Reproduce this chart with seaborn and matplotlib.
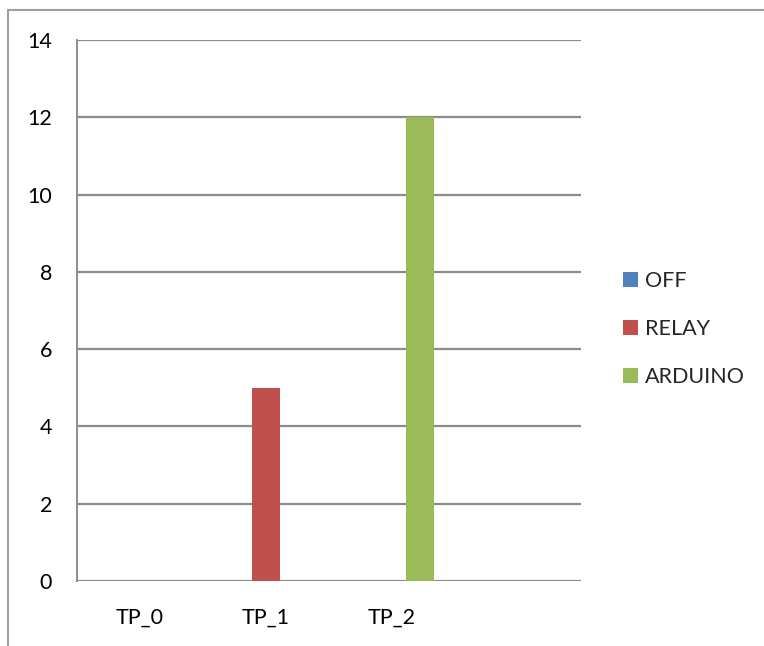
import matplotlib
matplotlib.use("Agg")
import matplotlib.pyplot as plt
from matplotlib.patches import Patch
from matplotlib.lines import Line2D
import seaborn as sns
import pandas as pd

categories = ["TP_0", "TP_1", "TP_2"]
series = ["OFF", "RELAY", "ARDUINO"]
off_values = [0, 0, 0]
relay_values = [0, 5, 0]
arduino_values = [0, 0, 12]
y_ticks = [0, 2, 4, 6, 8, 10, 12, 14]
colors = ["#4F81BD", "#C0504D", "#9BBB59"]

rows = []
for name, vals in zip(series, [off_values, relay_values, arduino_values]):
    for cat, v in zip(categories, vals):
        rows.append({"cat": cat, "series": name, "value": v})
df = pd.DataFrame(rows)

sns.set_theme(style="white")
plt.rcParams["font.family"] = ["Lato", "DejaVu Sans"]

FS = 15.5

fig = plt.figure(figsize=(7.64, 6.46), dpi=100)
ax = fig.add_axes([77 / 764, 1 - 581 / 646, (581 - 77) / 764, (581 - 40) / 646])

# clustered bars, one slot per series in each category
sns.barplot(data=df, x="cat", y="value", hue="series", hue_order=series,
            palette=colors, saturation=1, dodge=True, width=2 / 3, gap=0,
            ax=ax, edgecolor="none", linewidth=0, legend=False, zorder=3)

ax.set_xlim(-0.5, 3.5)
ax.set_ylim(0, 14)
ax.set_yticks(y_ticks)
ax.set_yticklabels([str(t) for t in y_ticks], fontsize=FS)
ax.set_xticks(range(len(categories)))
ax.set_xticklabels(categories, fontsize=FS)
ax.tick_params(axis="both", length=0, colors="black")
ax.tick_params(axis="y", pad=18)
ax.tick_params(axis="x", pad=19)
ax.set_xlabel("")
ax.set_ylabel("")

for t in y_ticks:
    ax.axhline(t, color="#8C8C8C", lw=1.6, zorder=1)
for side in ["top", "right", "bottom"]:
    ax.spines[side].set_visible(False)
ax.spines["left"].set_color("#8C8C8C")
ax.spines["left"].set_linewidth(1.4)

handles = [Patch(facecolor=c, edgecolor="none", label=s) for c, s in zip(colors, series)]
fig.legend(handles=handles, loc="center left", bbox_to_anchor=(623 / 764, 1 - 329 / 646),
           frameon=False, fontsize=FS, handlelength=0.7, handleheight=0.7,
           handletextpad=0.33, labelspacing=1.32, borderpad=0, borderaxespad=0)

# outer frame along top and left edges
fig.add_artist(Line2D([8 / 764, 1], [1 - 9.5 / 646, 1 - 9.5 / 646], transform=fig.transFigure,
                      color="#A0A0A0", lw=1.5))
fig.add_artist(Line2D([8 / 764, 8 / 764], [0, 1 - 9.5 / 646], transform=fig.transFigure,
                      color="#A0A0A0", lw=1.5))

fig.savefig("out.png", dpi=100)
